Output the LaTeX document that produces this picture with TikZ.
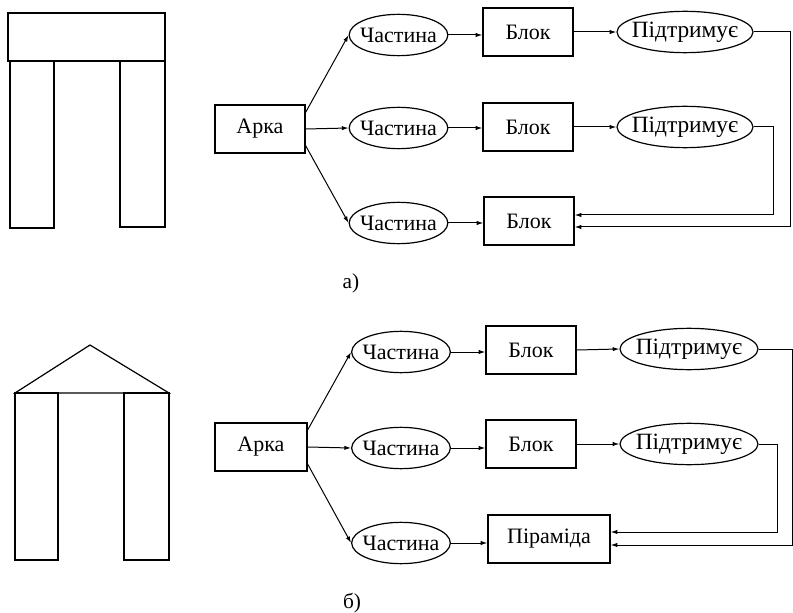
\documentclass[tikz,border=0pt]{standalone}
\usepackage{fontspec}
\setmainfont{Liberation Serif}
\usetikzlibrary{shapes.geometric,arrows.meta,calc}

% text that does not widen the ellipse around it
\newcommand{\inoval}[1]{\makebox[0pt]{#1}}

\tikzset{
  every node/.style={inner sep=0pt, font=\fontsize{16.5}{19}\selectfont},
  box/.style={draw, rectangle, line width=0.9pt, minimum width=67.5pt, minimum height=36pt},
  oval/.style={draw, ellipse, line width=0.9pt, minimum width=74pt, minimum height=31pt},
  wideoval/.style={draw, ellipse, line width=0.9pt, minimum width=102pt, minimum height=31pt, font=\fontsize{17.5}{19}\selectfont},
  arr/.style={line width=0.75pt, -{Latex[length=5pt,width=3.2pt]}},
  shape line/.style={line width=0.9pt},
  caption/.style={font=\fontsize{16}{18}\selectfont}
}

\begin{document}
\begin{tikzpicture}[x=0.75pt, y=-0.75pt]
\useasboundingbox (0,0) rectangle (793,613);

% ---- а) flat lintel on two pillars ----
\draw[shape line] (8,13) rectangle (165,61);
\draw[shape line] (10,61) rectangle (54,228);
\draw[shape line] (120,61) rectangle (165,227);

% ---- б) pyramid on two pillars ----
\draw[shape line] (15,393) -- (90,345) -- (169,393) -- cycle;
\draw[shape line] (15,393) rectangle (58,560);
\draw[shape line] (124,393) rectangle (169,560);

% ---- semantic net а) ----
\node[box] (aA) at (260,129) {Арка};
\node[oval] (aC1) at (398.5,35) {\inoval{Частина}};
\node[oval] (aC2) at (398.5,128) {\inoval{Частина}};
\node[oval] (aC3) at (398.5,223) {\inoval{Частина}};
\node[box] (aB1) at (528,32) {Блок};
\node[box] (aB2) at (528,127) {Блок};
\node[box] (aB3) at (529,221) {Блок};
\node[wideoval] (aP1) at (685,32) {\inoval{Підтримує}};
\node[wideoval] (aP2) at (685,127) {\inoval{Підтримує}};

\draw[arr] (aA.20) -- (aC1.west);
\draw[arr] (aA.east) -- (aC2.west);
\draw[arr] (aA.-20) -- (aC3.west);
\draw[arr] (aC1.east) -- (aB1.west |- aC1.east);
\draw[arr] (aC2.east) -- (aB2.west |- aC2.east);
\draw[arr] (aC3.east) -- (aB3.west |- aC3.east);
\draw[arr] (aB1.east) -- (aP1.west);
\draw[arr] (aB2.east) -- (aP2.west);

\coordinate (aR1) at (790,227);
\coordinate (aR2) at (773,215);
\draw[arr] (aP1.east) -| (aR1) -- (aB3.east |- aR1);
\draw[arr] (aP2.east) -| (aR2) -- (aB3.east |- aR2);

\node[caption] (capA) at (351,283) {а)};

% ---- semantic net б) ----
\node[box, minimum width=69pt] (bA) at (261,447) {Арка};
\node[oval] (bC1) at (401,352) {\inoval{Частина}};
\node[oval] (bC2) at (401,448) {\inoval{Частина}};
\node[oval] (bC3) at (401,543) {\inoval{Частина}};
\node[box] (bB1) at (531,350) {Блок};
\node[box] (bB2) at (531,444) {Блок};
\node[box, minimum width=91.5pt] (bPy) at (549,539) {Піраміда};
\node[wideoval, minimum width=103.5pt] (bP1) at (689,349) {\inoval{Підтримує}};
\node[wideoval, minimum width=103.5pt] (bP2) at (689,444) {\inoval{Підтримує}};

\draw[arr] (bA.20) -- (bC1.west);
\draw[arr] (bA.east) -- (bC2.west);
\draw[arr] (bA.-20) -- (bC3.west);
\draw[arr] (bC1.east) -- (bB1.west |- bC1.east);
\draw[arr] (bC2.east) -- (bB2.west |- bC2.east);
\draw[arr] (bC3.east) -- (bPy.west |- bC3.east);
\draw[arr] (bB1.east) -- (bP1.west);
\draw[arr] (bB2.east) -- (bP2.west);

\coordinate (bR1) at (792,545);
\coordinate (bR2) at (777,532);
\draw[arr] (bP1.east) -| (bR1) -- (bPy.east |- bR1);
\draw[arr] (bP2.east) -| (bR2) -- (bPy.east |- bR2);

\node[caption] (capB) at (352,603) {б)};
\end{tikzpicture}
\end{document}
